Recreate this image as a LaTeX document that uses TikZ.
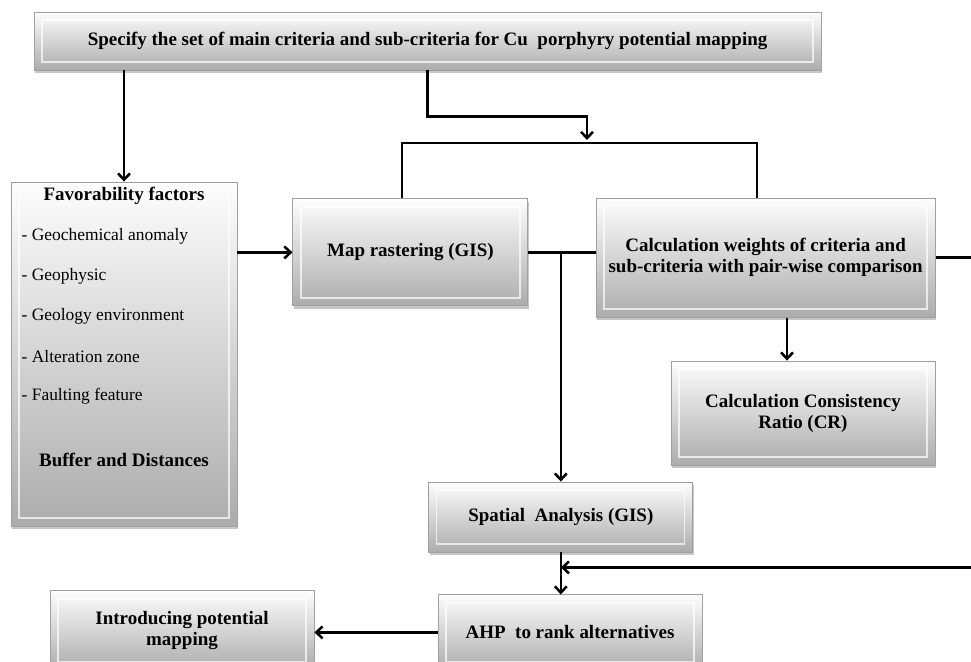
\documentclass[tikz,border=0pt]{standalone}
\usepackage{fontspec}
\setmainfont{Liberation Serif}
\usepackage{xcolor}
\usepackage{tikz}
\usetikzlibrary{arrows.meta, positioning, shadows, calc}
\definecolor{boxedge}{RGB}{160,160,160}
\definecolor{boxtop}{RGB}{253,253,253}
\definecolor{boxbot}{RGB}{172,172,172}

\begin{document}
\begin{tikzpicture}[
  box/.style={rectangle, draw=boxedge, line width=0.6pt,
              top color=boxtop, bottom color=boxbot,
              drop shadow={opacity=0.45, shadow xshift=0.8pt, shadow yshift=-2pt},
              font=\fontsize{13.5}{15}\selectfont\bfseries, align=center, inner sep=4pt,
              path picture={\draw[white, line width=0.9pt, opacity=0.7]
                ([shift={(0.2,-0.2)}]path picture bounding box.north west) rectangle
                ([shift={(-0.2,0.2)}]path picture bounding box.south east);}},
  item/.style={font=\fontsize{12.4}{14}\selectfont, anchor=west, inner sep=0pt},
  head/.style={font=\fontsize{13.5}{15}\selectfont\bfseries, inner sep=0pt},
  arr/.style={-{Straight Barb[length=4.5pt, width=8.5pt]}, line width=1.8pt},
  wire/.style={line width=1.8pt},
]
\useasboundingbox (0,0) rectangle (24.275,-16.55);
\clip (0,0) rectangle (24.275,-16.55);

% --- boxes ---
\node[box, minimum width=19.675cm, minimum height=1.45cm] (spec) at (10.69,-1.025)
  {Specify the set of main criteria and sub-criteria for Cu~ porphyry potential mapping};
\node[box, minimum width=5.65cm, minimum height=8.6cm] (fav) at (3.1,-8.85) {};
\node[box, minimum width=5.875cm, minimum height=2.675cm] (map) at (10.26,-6.31)
  {Map rastering (GIS)};
\node[box, minimum width=8.475cm, minimum height=2.975cm] (calc) at (19.14,-6.44)
  {Calculation weights of criteria and\\sub-criteria with pair-wise comparison};
\node[box, minimum width=6.6cm, minimum height=2.6cm] (cr) at (20.075,-10.325)
  {Calculation Consistency\\Ratio (CR)};
\node[box, minimum width=6.6cm, minimum height=1.75cm] (spatial) at (14.02,-12.925)
  {Spatial~ Analysis (GIS)};
\node[box, minimum width=6.6cm, minimum height=1.875cm] (ahp) at (14.25,-15.81)
  {AHP~ to rank alternatives};
\node[box, minimum width=6.6cm, minimum height=1.975cm] (intro) at (4.55,-15.76)
  {Introducing potential\\mapping};

% --- favorability list ---
\node[head, below=0.12cm of fav.north] (favhead) {Favorability factors};
\foreach \t [count=\i] in {Geochemical anomaly, Geophysic, Geology environment,
                           Alteration zone, Faulting feature}
  \node[item] (f\i) at ($(fav.north west)+(0.27,-1.375-\i+1)$) {- \t};
\node[head] (buffer) at ($(fav.north)+(0,-6.97)$) {Buffer and Distances};

% --- connectors ---
\coordinate (bl) at (10.05,-3.575);
\coordinate (br) at (18.925,-3.575);
\coordinate (bt) at (14.675,-3.5);
\coordinate (rt) at (24.8,-6.44);
\coordinate (jn) at ($(spatial.south)+(0,-0.375)$);

\draw[arr] (spec.south -| fav.north) -- (fav.north);
\draw[arr] (spec.south) -- ++(0,-1.15) -| (bt);
\draw[wire] (bl |- map.north) -- (bl) -- (br) -- (br |- calc.north);
\draw[arr] (fav.east |- map.west) -- (map.west);
\draw[wire] (map.east) -- (map.east -| calc.west);
\draw[arr] (spatial.north |- map.east) -- (spatial.north);
\draw[arr] ([xshift=-0.4cm]cr.north |- calc.south) -- ([xshift=-0.4cm]cr.north);
\draw[arr] (calc.east) -- (rt) |- (jn);
\draw[arr] (spatial.south) -- (spatial.south |- ahp.north);
\draw[arr] (ahp.west) -- (ahp.west -| intro.east);
\end{tikzpicture}
\end{document}
